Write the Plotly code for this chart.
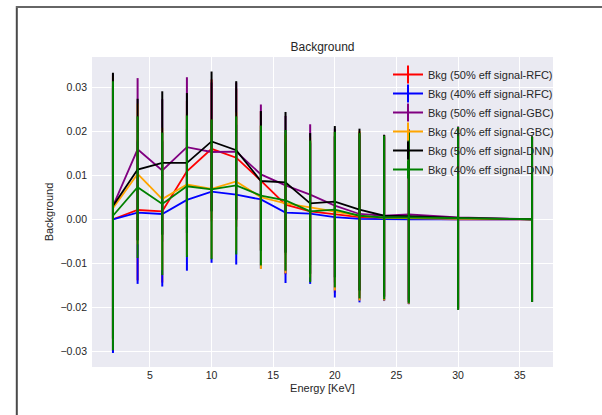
import plotly.graph_objects as go

energy = [2, 4, 6, 8, 10, 12, 14, 16, 18, 20, 22, 24, 26, 30, 36]

rfc50 = [0.0000, 0.0021, 0.0018, 0.0109, 0.0160, 0.0140, 0.0088, 0.0033, 0.0018, 0.0011, 0.0005, 0.0002, 0.0001, 0.0000, 0.0000]
rfc40 = [0.0000, 0.0015, 0.0012, 0.0044, 0.0063, 0.0056, 0.0045, 0.0015, 0.0013, 0.0005, 0.0001, 0.0000, 0.0000, 0.0000, 0.0000]
gbc50 = [0.0030, 0.0159, 0.0111, 0.0164, 0.0153, 0.0154, 0.0102, 0.0077, 0.0056, 0.0031, 0.0012, 0.0008, 0.0011, 0.0004, 0.0000]
gbc40 = [0.0025, 0.0103, 0.0046, 0.0079, 0.0069, 0.0086, 0.0050, 0.0036, 0.0027, 0.0018, 0.0008, 0.0003, 0.0002, 0.0001, 0.0000]
dnn50 = [0.0030, 0.0113, 0.0128, 0.0128, 0.0177, 0.0157, 0.0087, 0.0084, 0.0036, 0.0040, 0.0022, 0.0008, 0.0007, 0.0003, 0.0000]
dnn40 = [0.0008, 0.0073, 0.0035, 0.0075, 0.0068, 0.0077, 0.0054, 0.0043, 0.0018, 0.0022, 0.0008, 0.0004, 0.0004, 0.0002, 0.0000]

rfc50_err = [0.0300, 0.0160, 0.0162, 0.0160, 0.0158, 0.0157, 0.0158, 0.0158, 0.0159, 0.0178, 0.0188, 0.0186, 0.0194, 0.0206, 0.0188]
rfc40_err = [0.0304, 0.0162, 0.0165, 0.0161, 0.0162, 0.0159, 0.0157, 0.0160, 0.0160, 0.0183, 0.0190, 0.0186, 0.0193, 0.0206, 0.0188]
gbc50_err = [0.0300, 0.0162, 0.0162, 0.0159, 0.0158, 0.0157, 0.0159, 0.0158, 0.0160, 0.0175, 0.0186, 0.0184, 0.0194, 0.0207, 0.0188]
gbc40_err = [0.0300, 0.0160, 0.0162, 0.0160, 0.0158, 0.0157, 0.0163, 0.0159, 0.0159, 0.0180, 0.0193, 0.0188, 0.0194, 0.0206, 0.0188]
dnn50_err = [0.0303, 0.0161, 0.0163, 0.0159, 0.0159, 0.0157, 0.0159, 0.0160, 0.0160, 0.0172, 0.0184, 0.0184, 0.0195, 0.0206, 0.0188]
dnn40_err = [0.0306, 0.0161, 0.0162, 0.0161, 0.0159, 0.0157, 0.0159, 0.0160, 0.0161, 0.0177, 0.0188, 0.0186, 0.0195, 0.0208, 0.0188]

names = ["Bkg (50% eff signal-RFC)", "Bkg (40% eff signal-RFC)",
         "Bkg (50% eff signal-GBC)", "Bkg (40% eff signal-GBC)",
         "Bkg (50% eff signal-DNN)", "Bkg (40% eff signal-DNN)"]
colors = ["#ff0000", "#0000ff", "#800080", "#ffa500", "#000000", "#008000"]
series = [rfc50, rfc40, gbc50, gbc40, dnn50, dnn40]
errors = [rfc50_err, rfc40_err, gbc50_err, gbc40_err, dnn50_err, dnn40_err]

x_ticks = [5, 10, 15, 20, 25, 30, 35]
y_ticks = [-0.03, -0.02, -0.01, 0.00, 0.01, 0.02, 0.03]

W, H = 602, 415
ML, MR, MT, MB = 92, 49, 57, 48
PW, PH = W - ML - MR, H - MT - MB

fig = go.Figure()
for name, col, ys, es in zip(names, colors, series, errors):
    fig.add_trace(go.Scatter(
        x=energy, y=ys, mode="lines", name=name, showlegend=False,
        line=dict(color=col, width=1.8),
        error_y=dict(type="data", array=es, visible=True, color=col,
                     thickness=2, width=0),
    ))
for name, col in zip(names, colors):
    fig.add_trace(go.Scatter(
        x=[None], y=[None], mode="lines+markers", name=name,
        line=dict(color=col, width=2),
        marker=dict(symbol="line-ns-open", size=13, color=col,
                    line=dict(color=col, width=2)),
    ))

def px2x(p):
    return (p - ML) / PW

def px2y(p):
    return (H - MB - p) / PH

frame = dict(color="#4a4a4a", width=2)
fig.add_shape(type="line", xref="paper", yref="paper",
              x0=px2x(16.8), x1=px2x(16.8), y0=px2y(6), y1=px2y(H + 5), line=frame)
fig.add_shape(type="line", xref="paper", yref="paper",
              x0=px2x(16), x1=px2x(W + 5), y0=px2y(7), y1=px2y(7),
              line=dict(color="#666666", width=2))

txt = "#262626"
fig.update_layout(
    width=W, height=H,
    margin=dict(l=ML, r=MR, t=MT, b=MB, pad=0),
    paper_bgcolor="white", plot_bgcolor="#eaeaf2",
    font=dict(family="Liberation Sans, Arial, sans-serif", size=11, color=txt),
    title=dict(text="Background", x=(ML + PW / 2) / W, xanchor="center",
               y=1 - 47 / H, yanchor="middle", yref="container",
               font=dict(size=12, color=txt)),
    xaxis=dict(range=[0.3, 37.7], tickvals=x_ticks, ticks="", showline=False,
               gridcolor="white", gridwidth=1, zeroline=False,
               tickfont=dict(size=10.5, color=txt),
               title=dict(text="Energy [KeV]", standoff=4, font=dict(size=11, color=txt))),
    yaxis=dict(range=[-0.0336, 0.0369], tickvals=y_ticks, tickformat=".2f",
               ticks="", showline=False, gridcolor="white", gridwidth=1,
               zeroline=False, ticklabelstandoff=4,
               tickfont=dict(size=10.5, color=txt),
               title=dict(text="Background", standoff=4, font=dict(size=11, color=txt))),
    legend=dict(x=px2x(388), y=px2y(60), xanchor="left", yanchor="top",
                bgcolor="rgba(0,0,0,0)", borderwidth=0,
                font=dict(size=11, color=txt), tracegroupgap=0),
    showlegend=True,
)

fig.write_html("out.html")
